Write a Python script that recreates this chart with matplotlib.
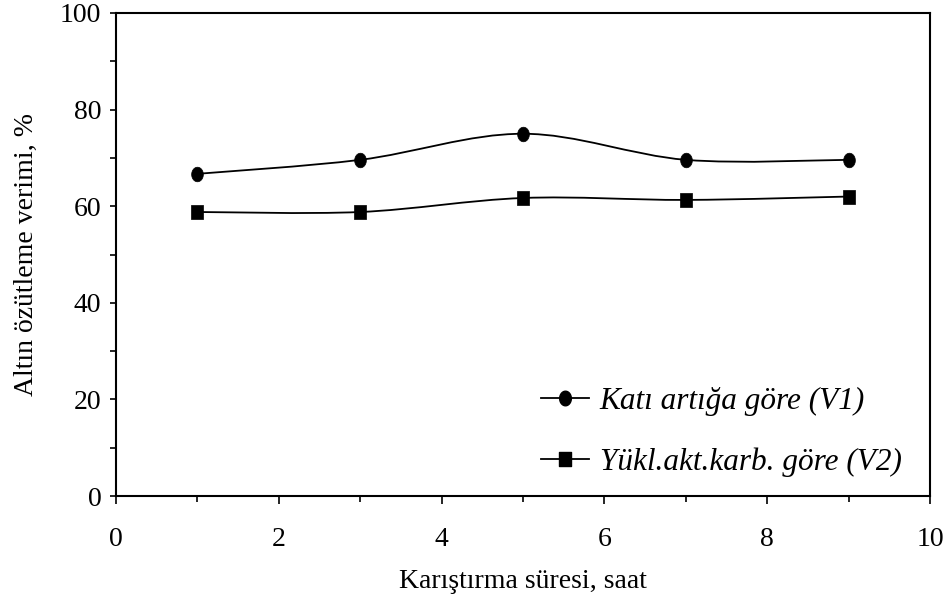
import numpy as np
import matplotlib
matplotlib.use("Agg")
import matplotlib.pyplot as plt
from matplotlib.path import Path
from matplotlib.patches import PathPatch
from matplotlib.lines import Line2D

# ---- data ----
time_h = [1, 3, 5, 7, 9]
v1_values = [66.7, 69.6, 75.0, 69.6, 69.6]
v2_values = [58.8, 58.8, 61.7, 61.3, 62.0]
series_labels = ["Katı artığa göre (V1)", "Yükl.akt.karb. göre (V2)"]
x_label = "Karıştırma süresi, saat"
y_label = "Altın özütleme verimi, %"
x_ticks = [0, 2, 4, 6, 8, 10]
y_ticks = [0, 20, 40, 60, 80, 100]

plt.rcParams['font.family'] = ['Liberation Serif', 'DejaVu Serif']


def smooth_path(x, y):
    """Excel-like smoothed line: Catmull-Rom converted to cubic Bezier segments."""
    pts = np.column_stack([x, y]).astype(float)
    n = len(pts)
    verts = [pts[0]]
    codes = [Path.MOVETO]
    for i in range(n - 1):
        p0 = pts[i - 1] if i > 0 else pts[i]
        p1 = pts[i]
        p2 = pts[i + 1]
        p3 = pts[i + 2] if i + 2 < n else pts[i + 1]
        c1 = p1 + (p2 - p0) / 6.0
        c2 = p2 - (p3 - p1) / 6.0
        verts += [c1, c2, p2]
        codes += [Path.CURVE4] * 3
    return Path(verts, codes)


def ellipse_marker(w=0.8, h=1.0, n=60):
    t = np.linspace(0, 2 * np.pi, n)
    v = np.column_stack([w / 2 * np.cos(t), h / 2 * np.sin(t)])
    return Path(v, closed=False)


def rect_marker(w=0.78, h=1.0):
    v = [(-w / 2, -h / 2), (w / 2, -h / 2), (w / 2, h / 2), (-w / 2, h / 2), (-w / 2, -h / 2)]
    return Path(v, [Path.MOVETO, Path.LINETO, Path.LINETO, Path.LINETO, Path.CLOSEPOLY])


circ_m = ellipse_marker()
sq_m = rect_marker()
msize = 10.5

fig = plt.figure(figsize=(9.5, 6.07), dpi=100)
ax = fig.add_axes([116 / 950, 1 - 496 / 607, (930 - 116) / 950, (496 - 13) / 607])

lw = 1.3
for yv, mk in [(v1_values, circ_m), (v2_values, sq_m)]:
    ax.add_patch(PathPatch(smooth_path(time_h, yv), fill=False, edgecolor='black', lw=lw))
    ax.plot(time_h, yv, linestyle='none', marker=mk, markersize=msize,
            markerfacecolor='black', markeredgecolor='black', markeredgewidth=0.5)

ax.set_xlim(0, 10)
ax.set_ylim(0, 100)
ax.set_xticks(x_ticks)
ax.set_yticks(y_ticks)
ax.set_xticks(np.arange(0, 11, 1), minor=True)
ax.set_yticks(np.arange(0, 101, 10), minor=True)
ax.tick_params(which='both', direction='out', width=1.2, colors='black', labelsize=20)
ax.tick_params(axis='x', which='major', length=5.5, pad=17)
ax.tick_params(axis='x', which='minor', length=4.5)
ax.tick_params(axis='y', which='both', length=4.5, pad=6)
for s in ax.spines.values():
    s.set_linewidth(1.5)

ax.set_xlabel(x_label, fontsize=20, labelpad=12)
ax.set_ylabel(y_label, fontsize=20, labelpad=15)

handles = [
    Line2D([], [], color='black', lw=lw, marker=circ_m, markersize=msize, markerfacecolor='black'),
    Line2D([], [], color='black', lw=lw, marker=sq_m, markersize=msize, markerfacecolor='black'),
]
leg = fig.legend(handles, series_labels, loc='upper left',
                 bbox_to_anchor=(541 / 950, 1 - 387 / 607),
                 frameon=False, numpoints=1, borderpad=0, borderaxespad=0,
                 handlelength=1.55, handletextpad=0.33, labelspacing=1.0,
                 prop={'family': 'Liberation Serif', 'style': 'italic', 'size': 22.5})

fig.savefig("out.png", dpi=100)
